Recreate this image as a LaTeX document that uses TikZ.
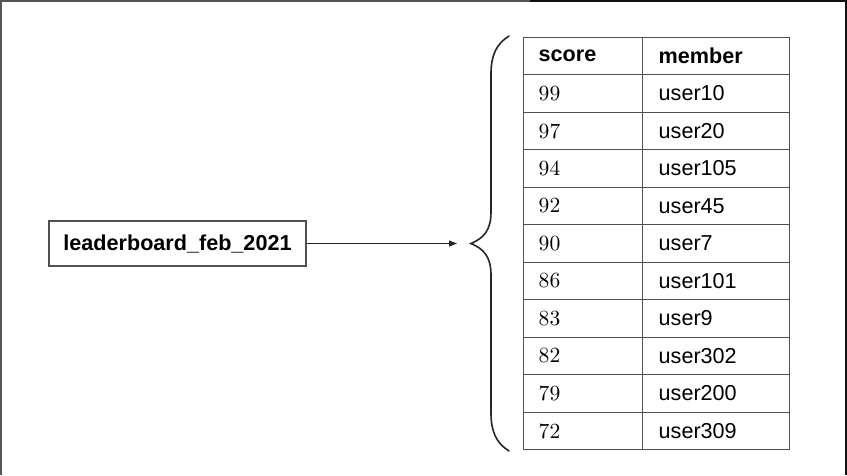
\documentclass[tikz,border=0pt]{standalone}
\usepackage{graphicx}
\usepackage{fontspec}
\newfontfamily\arial{Liberation Sans}
\usetikzlibrary{arrows.meta}
\definecolor{tablegray}{HTML}{505050}
\definecolor{framegray}{HTML}{555555}
\definecolor{framedark}{HTML}{111111}
\newcommand{\bignum}[1]{\scalebox{2.16}{\fontsize{10}{12}\selectfont #1}}
\begin{document}
\begin{tikzpicture}[x=1pt,y=-1pt,
  sansfont/.style={font=\arial\fontsize{21.6}{26}\selectfont},
  sansbold/.style={font=\arial\bfseries\fontsize{21.6}{26}\selectfont},
  cell/.style={draw=tablegray, line width=1.4pt, minimum height=37.5pt, inner ysep=0pt, anchor=north west, align=left, text=black},
  colone/.style={cell, text width=89pt, inner xsep=15pt},
  coltwo/.style={cell, text width=115pt, inner xsep=16pt},
  keybox/.style={draw=tablegray, line width=1.4pt, minimum width=257pt, minimum height=45pt, inner sep=0pt, sansbold, text=black}
]
\useasboundingbox (0,0) rectangle (847,475);
% frame
\draw[framegray, line width=2pt] (1,475) -- (1,1) -- (530,1);
\draw[framedark, line width=2pt] (530,1) -- (846,1) -- (846,475);
% table
\node[colone, sansbold] (h1) at (523,36.5) {score};
\node[coltwo, sansbold] (h2) at (642,36.5) {member};
\foreach \s/\u [count=\i] in {99/user10,97/user20,94/user105,92/user45,90/user7,86/user101,83/user9,82/user302,79/user200,72/user309}{
  \node[colone] (s\i) at (523,36.5+37.5*\i) {\bignum{\s}};
  \node[coltwo, sansfont] (m\i) at (642,36.5+37.5*\i) {\u};
}
% key
\node[keybox] (key) at (177.5,243.5) {leaderboard\_feb\_2021};
\coordinate (arrowend) at (457,243.5);
\draw[line width=0.9pt, black!85, -{Triangle[length=8pt,width=6pt]}] (key.east) -- (arrowend);
% brace
\coordinate (bracetip) at (471,243.5);
\draw[line width=1.6pt, black!85, line cap=round]
  (509,36) .. controls (496,44) and (491,56) .. (491,74)
  -- (491,212) .. controls (491,230) and (484,238) .. (bracetip)
  .. controls (484,249) and (491,257) .. (491,275)
  -- (491,413) .. controls (491,431) and (496,443) .. (509,451);
\end{tikzpicture}
\end{document}
